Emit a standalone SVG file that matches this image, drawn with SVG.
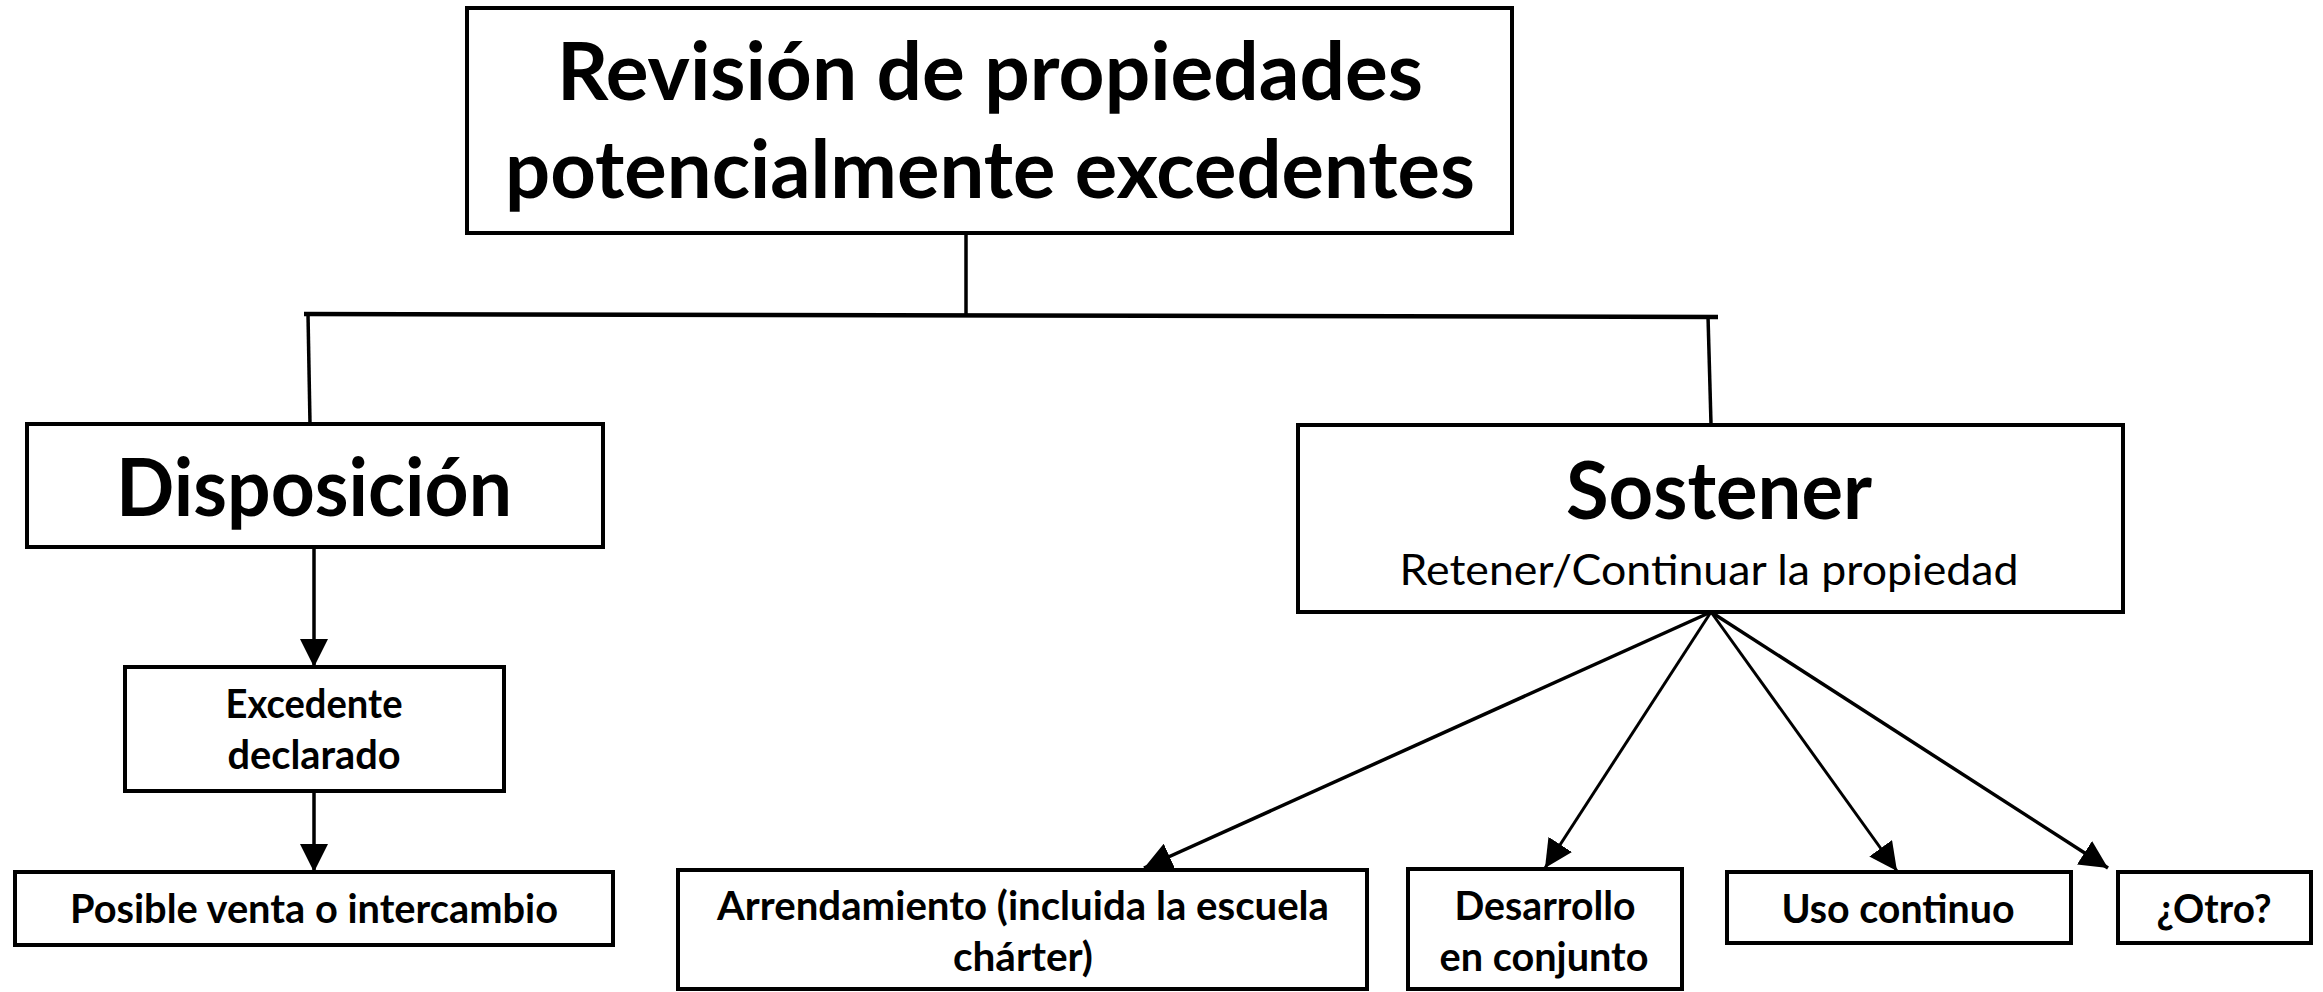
<svg xmlns="http://www.w3.org/2000/svg" width="2323" height="992" viewBox="0 0 2323 992">
<style>
.box{fill:#fff;stroke:#000;stroke-width:4}
.big{font-family:Lato,"Liberation Sans",sans-serif;font-weight:700;font-size:80px;text-anchor:middle;fill:#000}
.sub{font-family:Lato,"Liberation Sans",sans-serif;font-weight:400;font-size:43px;text-anchor:middle;fill:#000}
.sm{font-family:Lato,"Liberation Sans",sans-serif;font-weight:700;font-size:41px;text-anchor:middle;fill:#000}
.ln{fill:none;stroke:#000;stroke-width:3.5}
.ar{fill:none;stroke:#000;stroke-width:3.5;marker-end:url(#ah)}
</style>
<defs>
<marker id="ah" viewBox="0 0 28 28" refX="28" refY="14" markerWidth="28" markerHeight="28" markerUnits="userSpaceOnUse" orient="auto">
<path d="M0,0 L28,14 L0,28 z" fill="#000"/>
</marker>
</defs>
<g id="connectors">
<line class="ln" x1="966" y1="233" x2="966" y2="315"/>
<line class="ln" x1="304" y1="314" x2="1718" y2="317" style="stroke-width:4.5"/>
<line class="ln" x1="308" y1="314" x2="310" y2="424"/>
<line class="ln" x1="1708" y1="316" x2="1711" y2="424"/>
<line class="ar" x1="314" y1="547" x2="314" y2="667"/>
<line class="ar" x1="314" y1="791" x2="314" y2="872"/>
<line class="ar" x1="1711" y1="612" x2="1144" y2="868"/>
<line class="ar" x1="1711" y1="612" x2="1545" y2="868" style="stroke-width:3"/>
<line class="ar" x1="1711" y1="612" x2="1897" y2="871" style="stroke-width:3"/>
<line class="ar" x1="1711" y1="612" x2="2108" y2="868"/>
</g>
<g id="title">
<rect class="box" x="467" y="8" width="1045" height="225"/>
<text class="big" x="990" y="100" textLength="866" lengthAdjust="spacingAndGlyphs">Revisión de propiedades</text>
<text class="big" x="990" y="198" textLength="970" lengthAdjust="spacingAndGlyphs">potencialmente excedentes</text>
</g>
<g id="disposicion">
<rect class="box" x="27" y="424" width="576" height="123"/>
<text class="big" x="314" y="516" textLength="396" lengthAdjust="spacingAndGlyphs">Disposición</text>
</g>
<g id="excedente">
<rect class="box" x="125" y="667" width="379" height="124"/>
<text class="sm" x="314" y="718" textLength="177" lengthAdjust="spacingAndGlyphs">Excedente</text>
<text class="sm" x="314" y="769" textLength="173" lengthAdjust="spacingAndGlyphs">declarado</text>
</g>
<g id="posible">
<rect class="box" x="15" y="872" width="598" height="73"/>
<text class="sm" x="314" y="923" textLength="488" lengthAdjust="spacingAndGlyphs">Posible venta o intercambio</text>
</g>
<g id="sostener">
<rect class="box" x="1298" y="425" width="825" height="187"/>
<text class="big" x="1719" y="519" textLength="306" lengthAdjust="spacingAndGlyphs">Sostener</text>
<text class="sub" x="1709" y="585" textLength="619" lengthAdjust="spacingAndGlyphs">Retener/Continuar la propiedad</text>
</g>
<g id="arrendamiento">
<rect class="box" x="678" y="870" width="689" height="119"/>
<text class="sm" x="1023" y="920" textLength="612" lengthAdjust="spacingAndGlyphs">Arrendamiento (incluida la escuela</text>
<text class="sm" x="1023" y="971" textLength="140" lengthAdjust="spacingAndGlyphs">chárter)</text>
</g>
<g id="desarrollo">
<rect class="box" x="1408" y="869" width="274" height="120"/>
<text class="sm" x="1545" y="920" textLength="181" lengthAdjust="spacingAndGlyphs">Desarrollo</text>
<text class="sm" x="1544" y="971" textLength="209" lengthAdjust="spacingAndGlyphs">en conjunto</text>
</g>
<g id="uso">
<rect class="box" x="1727" y="872" width="344" height="71"/>
<text class="sm" x="1898" y="923" textLength="233" lengthAdjust="spacingAndGlyphs">Uso continuo</text>
</g>
<g id="otro">
<rect class="box" x="2118" y="872" width="193" height="71"/>
<text class="sm" x="2214" y="923" textLength="115" lengthAdjust="spacingAndGlyphs">¿Otro?</text>
</g>
</svg>
